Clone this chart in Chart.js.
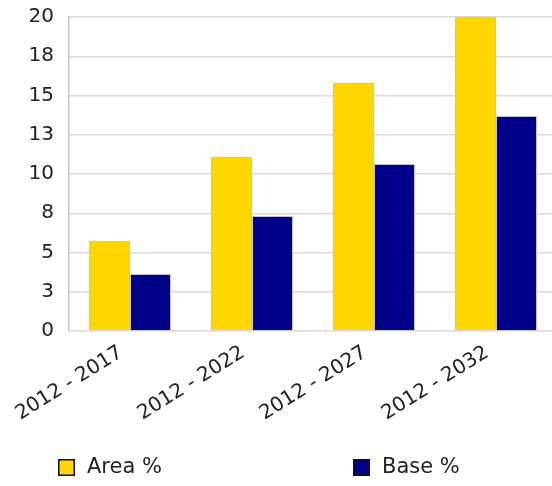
<!DOCTYPE html>
<html>
<head>
<meta charset="utf-8">
<script src="https://cdn.jsdelivr.net/npm/chart.js@4.4.1/dist/chart.umd.min.js"></script>
<style>
    html, body { margin: 0; padding: 0; background: #fff; overflow: hidden; }
    #wrap { width: 552px; height: 486px; overflow: hidden; }
</style>
</head>
<body>
<div id="wrap"><canvas id="bar-chart" width="562" height="486"></canvas></div>
<script>
var categories = ["2012 - 2017", "2012 - 2022", "2012 - 2027", "2012 - 2032"];
var areaValues = [5.73, 11.08, 15.8, 20];
var baseValues = [3.63, 7.32, 10.64, 13.7];
var seriesNames = ["Area %", "Base %"];
var yTicks = [0, 2.5, 5, 7.5, 10, 12.5, 15, 17.5, 20];
var yTickLabels = ["0", "3", "5", "8", "10", "13", "15", "18", "20"];

var FONT = "DejaVu Sans";

// legend is drawn by hand so the two items can sit far apart like the original
var bottomLegend = {
    id: 'bottomLegend',
    afterDraw: function (chart) {
        var ctx = chart.ctx;
        var xs = [58, 353];
        ctx.save();
        chart.data.datasets.forEach(function (ds, i) {
            var x = xs[i], y = 459;
            ctx.fillStyle = ds.backgroundColor;
            ctx.fillRect(x, y, 17, 17);
            ctx.strokeStyle = '#111';
            ctx.lineWidth = 1.5;
            ctx.strokeRect(x + 0.75, y + 0.75, 15.5, 15.5);
            ctx.fillStyle = '#222';
            ctx.font = '21px "' + FONT + '"';
            ctx.textBaseline = 'middle';
            ctx.textAlign = 'left';
            ctx.fillText(ds.label, x + 29, y + 9);
        });
        ctx.restore();
    }
};

new Chart(document.getElementById("bar-chart").getContext("2d"), {
    type: 'bar',
    data: {
        labels: categories,
        datasets: [
            {
                label: seriesNames[0],
                data: areaValues,
                backgroundColor: "#ffd600",
                borderColor: "#c4c4c4",
                borderWidth: 1
            },
            {
                label: seriesNames[1],
                data: baseValues,
                backgroundColor: "#000088",
                borderColor: "#c4c4c4",
                borderWidth: 1
            }
        ]
    },
    options: {
        responsive: false,
        animation: false,
        devicePixelRatio: 1,
        // plot runs a few px past the visible right edge, as in the original
        layout: {padding: {top: 17, left: 0, right: 5, bottom: 0}},
        categoryPercentage: 0.672,
        barPercentage: 1,
        plugins: {
            legend: {display: false},
            tooltip: {enabled: false}
        },
        scales: {
            x: {
                grid: {display: false, drawTicks: false},
                border: {display: false},
                ticks: {
                    color: '#222',
                    font: {family: FONT, size: 20},
                    minRotation: 32,
                    maxRotation: 32,
                    padding: 10,
                    labelOffset: -9
                },
                afterFit: function (axis) {
                    axis.height = 155;
                    axis.paddingTop = 0;
                }
            },
            y: {
                min: 0,
                max: 20,
                grid: {color: '#dadada', lineWidth: 1.5, drawTicks: false},
                border: {color: '#c4c4c4', width: 1.5},
                afterBuildTicks: function (axis) {
                    axis.ticks = yTicks.map(function (v) { return {value: v}; });
                },
                ticks: {
                    color: '#222',
                    font: {family: FONT, size: 20},
                    padding: 15,
                    callback: function (value, index) { return yTickLabels[index]; }
                },
                afterFit: function (axis) {
                    axis.width = 69;
                    axis.paddingTop = 0;
                }
            }
        }
    },
    plugins: [bottomLegend]
});
</script>
</body>
</html>
